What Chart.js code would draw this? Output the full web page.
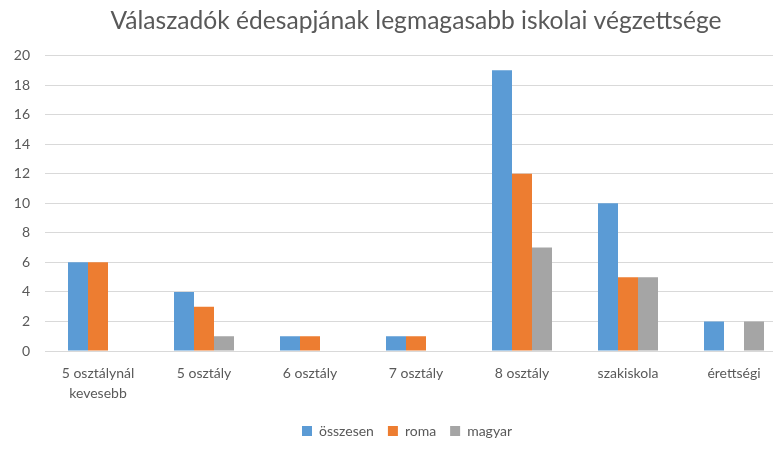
<!DOCTYPE html>
<html><head><meta charset="utf-8">
<script src="https://cdn.jsdelivr.net/npm/chart.js@4"></script>
<style>html,body{margin:0;padding:0;background:#fff;overflow:hidden;width:773px;height:454px}#wrap{width:800px;height:454px}</style>
</head><body><div id="wrap"><canvas id="c" width="800" height="454"></canvas></div>
<script>
const categories = [['5 osztálynál','kevesebb'], '5 osztály', '6 osztály', '7 osztály', '8 osztály', 'szakiskola', 'érettségi'];
const osszesen = [6, 4, 1, 1, 19, 10, 2];
const roma = [6, 3, 1, 1, 12, 5, 0];
const magyar = [0, 1, 0, 0, 7, 5, 2];
const yTicks = [0, 2, 4, 6, 8, 10, 12, 14, 16, 18, 20];
const FONT = 'Lato, "Open Sans", sans-serif';
const shiftBlocks = {
  id: 'shiftBlocks',
  afterLayout(chart) {
    const a = chart.chartArea;
    if (chart.titleBlock) { chart.titleBlock.left = a.left; chart.titleBlock.right = a.right; }
    if (chart.legend) { chart.legend.left = a.left - 18; chart.legend.right = a.right; }
  }
};
new Chart(document.getElementById('c'), {
  type: 'bar',
  data: {
    labels: categories,
    datasets: [
      {label: 'összesen', data: osszesen, backgroundColor: '#5B9BD5'},
      {label: 'roma', data: roma, backgroundColor: '#ED7D31'},
      {label: 'magyar', data: magyar, backgroundColor: '#A5A5A5'}
    ]
  },
  plugins: [shiftBlocks],
  options: {
    responsive: false,
    animation: false,
    layout: {padding: {left: 0, right: 13, top: 6, bottom: 6}},
    datasets: {bar: {barPercentage: 1, categoryPercentage: 0.566}},
    plugins: {
      title: {display: true, text: 'Válaszadók édesapjának legmagasabb iskolai végzettsége',
        color: '#595959', font: {family: FONT, size: 24.6, weight: 'normal'}, padding: {top: 0, bottom: 20}},
      legend: {position: 'bottom', labels: {color: '#595959', font: {family: FONT, size: 14},
        boxWidth: 10, boxHeight: 10, padding: 14}},
      tooltip: {enabled: false}
    },
    scales: {
      x: {grid: {display: false, drawTicks: false}, border: {color: '#d9d9d9'},
        afterFit: (s) => { s.height = 59; },
        ticks: {color: '#595959', font: {family: FONT, size: 14, lineHeight: 1.45}, padding: 12, maxRotation: 0}},
      y: {min: 0, max: 20, afterBuildTicks: (s) => { s.ticks = yTicks.map(v => ({value: v})); },
        afterFit: (s) => { s.width = 45; },
        grid: {color: '#d9d9d9', drawTicks: false}, border: {display: false},
        ticks: {color: '#595959', font: {family: FONT, size: 14}, padding: 15}}
    }
  }
});
</script></body></html>
